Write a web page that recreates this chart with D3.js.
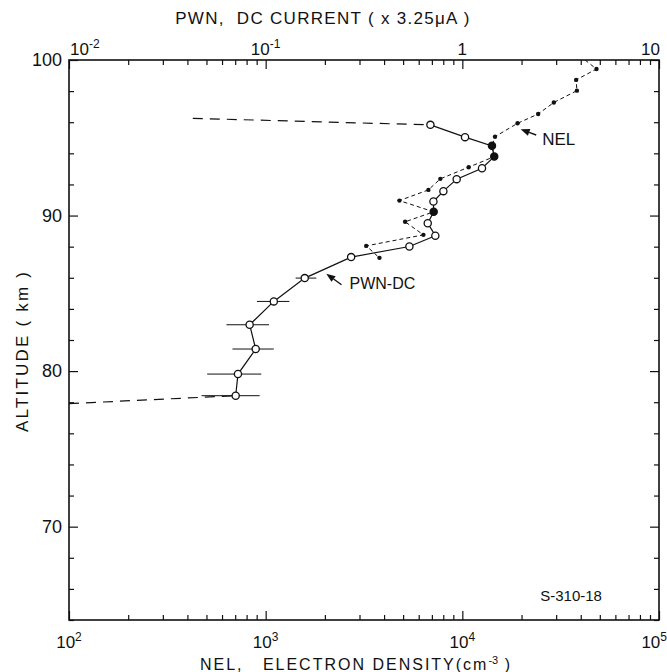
<!DOCTYPE html>
<html>
<head>
<meta charset="utf-8">
<script src="https://cdn.jsdelivr.net/npm/d3@7/dist/d3.min.js"></script>
<style>
  html, body { margin: 0; padding: 0; background: #fff; }
  svg text { font-family: "Liberation Sans", "DejaVu Sans", sans-serif; fill: #111; white-space: pre; }
</style>
</head>
<body>
<svg id="chart" width="667" height="672"></svg>
<script>
// PWN DC current profile (units of 3.25 µA) and altitude (km)
const pwnCurrent = [0.688, 1.032, 1.415, 1.453, 1.259, 0.936, 0.801, 0.713, 0.715, 0.667,
                    0.729, 0.538, 0.272, 0.158, 0.110, 0.0829, 0.0890, 0.0723, 0.0704];
const pwnAltitude = [95.83, 95.04, 94.48, 93.79, 93.04, 92.34, 91.57, 90.90, 90.24, 89.51,
                     88.70, 88.01, 87.33, 85.98, 84.48, 82.98, 81.42, 79.81, 78.42];
// horizontal error bars on the lower PWN points (low / high current)
const errAltitude = [85.98, 84.48, 82.98, 81.42, 79.81, 78.42];
const errLow  = [0.142, 0.0903, 0.0632, 0.0678, 0.0504, 0.0472];
const errHigh = [0.181, 0.132, 0.104, 0.110, 0.095, 0.0932];
// dashed extrapolations of the PWN profile above and below the measured points
const pwnUpperExt = [[0.0426, 96.25], [0.688, 95.83]];
const pwnLowerExt = [[0.0100, 77.91], [0.0704, 78.42]];

// NEL electron density (cm^-3) and altitude (km)
const nelDensity = [42070, 48100, 37900, 38250, 29200, 24300, 19090, 14660, 14150, 14530,
                    10770, 7730, 6720, 4787, 7150, 5118, 6340, 3245, 3790];
const nelAltitude = [100.0, 99.42, 98.72, 98.03, 97.27, 96.53, 95.93, 95.07, 94.48, 93.79,
                     93.11, 92.36, 91.65, 90.96, 90.24, 89.60, 88.76, 88.05, 87.28];
const nelDotFrom = 1; // first entry is only where the trace leaves the frame

const bottomTicks = [1e2, 1e3, 1e4, 1e5];
const bottomExp = ["2", "3", "4", "5"];
const topTicks = [1e-2, 1e-1, 1, 10];
const altTicks = [70, 80, 90, 100];

const svg = d3.select("#chart");
const L = 69, R = 659, T = 60, B = 620;

const x = d3.scaleLog().domain([1e2, 1e5]).range([L, R]);
const xTop = d3.scaleLog().domain([1e-2, 10]).range([L, R]);
const y = d3.scaleLinear().domain([64, 100]).range([B, T]);

// minor tick values for the log axes
function minors(scale) {
  const [a, b] = scale.domain();
  const out = [];
  for (let e = Math.round(Math.log10(a)); e < Math.round(Math.log10(b)); e++) {
    for (let m = 2; m <= 9; m++) out.push(m * Math.pow(10, e));
  }
  return out;
}
const altMinor = d3.range(64, 101, 2).filter(v => v % 10 !== 0);

function tickAxis(axisFn, scale, values, size, transform) {
  const g = svg.append("g").attr("transform", transform)
    .call(axisFn(scale).tickValues(values).tickSizeInner(size).tickSizeOuter(0).tickFormat(""));
  g.select(".domain").remove();
  g.selectAll(".tick line").attr("stroke", "#111").attr("stroke-width", 1.2);
  return g;
}
// inward ticks on all four sides
tickAxis(d3.axisBottom, x, minors(x), -5, `translate(0,${B})`);
tickAxis(d3.axisBottom, x, bottomTicks, -9, `translate(0,${B})`);
tickAxis(d3.axisTop, xTop, minors(xTop), -5, `translate(0,${T})`);
tickAxis(d3.axisTop, xTop, topTicks, -9, `translate(0,${T})`);
tickAxis(d3.axisLeft, y, altMinor, -5, `translate(${L},0)`);
tickAxis(d3.axisLeft, y, altTicks, -9, `translate(${L},0)`);
tickAxis(d3.axisRight, y, altMinor, -5, `translate(${R},0)`);
tickAxis(d3.axisRight, y, altTicks, -9, `translate(${R},0)`);

// frame
svg.append("rect").attr("x", L).attr("y", T).attr("width", R - L).attr("height", B - T)
  .attr("fill", "none").attr("stroke", "#111").attr("stroke-width", 1.6);

// tick labels
bottomTicks.forEach((v, i) => {
  let anchor = "middle", xx = x(v);
  if (i === bottomTicks.length - 1) { anchor = "end"; xx = 667; }
  const t = svg.append("text").attr("x", xx).attr("y", 648)
    .attr("text-anchor", anchor).attr("font-size", 17);
  t.append("tspan").text("10");
  t.append("tspan").attr("dy", -7).attr("font-size", 12).text(bottomExp[i]);
});
const topLabels = [["10", "-2"], ["10", "-1"], ["1", null], ["10", null]];
topTicks.forEach((v, i) => {
  let anchor = "middle", xx = xTop(v);
  if (i === 0) { anchor = "start"; xx += 1; }
  if (i === 3) { anchor = "end"; xx += 1; }
  const t = svg.append("text").attr("x", xx).attr("y", 55)
    .attr("text-anchor", anchor).attr("font-size", 17);
  t.append("tspan").text(topLabels[i][0]);
  if (topLabels[i][1]) t.append("tspan").attr("dy", -7).attr("font-size", 12).text(topLabels[i][1]);
});
altTicks.forEach(v => {
  svg.append("text").attr("x", 62).attr("y", y(v) + 6)
    .attr("text-anchor", "end").attr("font-size", 18).text(v);
});

// axis titles
svg.append("text").attr("x", 323).attr("y", 24).attr("text-anchor", "middle")
  .attr("font-size", 17).attr("letter-spacing", 1.3)
  .text("PWN,  DC CURRENT ( x 3.25μA )");
const botTitle = svg.append("text").attr("x", 356).attr("y", 670).attr("text-anchor", "middle")
  .attr("font-size", 16).attr("letter-spacing", 2);
botTitle.append("tspan").text("NEL,   ELECTRON DENSITY(cm");
botTitle.append("tspan").attr("dy", -6).attr("font-size", 11).attr("letter-spacing", 0).text("-3");
botTitle.append("tspan").attr("dy", 6).text(" )");
svg.append("text").attr("transform", `translate(28,${351}) rotate(-90)`)
  .attr("text-anchor", "middle").attr("font-size", 17).attr("letter-spacing", 2.2)
  .text("ALTITUDE ( km )");

const plot = svg.append("g");
plot.append("clipPath").attr("id", "clip").append("rect")
  .attr("x", L).attr("y", T).attr("width", R - L).attr("height", B - T);
const clipped = plot.append("g").attr("clip-path", "url(#clip)");

const lineTop = d3.line().x(d => xTop(d[0])).y(d => y(d[1]));
const lineNel = d3.line().x(d => x(d[0])).y(d => y(d[1]));

// PWN extrapolations
[pwnUpperExt, pwnLowerExt].forEach(seg => {
  clipped.append("path").attr("d", lineTop(seg)).attr("fill", "none")
    .attr("stroke", "#111").attr("stroke-width", 1.2).attr("stroke-dasharray", "10,7");
});

// NEL trace
const nelPts = nelDensity.map((v, i) => [v, nelAltitude[i]]);
clipped.append("path").attr("d", lineNel(nelPts)).attr("fill", "none")
  .attr("stroke", "#111").attr("stroke-width", 1).attr("stroke-dasharray", "4,3");

// PWN error bars
errAltitude.forEach((a, i) => {
  clipped.append("line").attr("x1", xTop(errLow[i])).attr("x2", xTop(errHigh[i]))
    .attr("y1", y(a)).attr("y2", y(a)).attr("stroke", "#111").attr("stroke-width", 1);
});

// PWN trace; a marker that coincides with an NEL sample is drawn solid
const pwnPts = pwnCurrent.map((v, i) => [v, pwnAltitude[i]]);
const nelXY = nelPts.slice(nelDotFrom).map(d => [x(d[0]), y(d[1])]);
const coincident = d => nelXY.some(p => Math.hypot(p[0] - xTop(d[0]), p[1] - y(d[1])) < 3);
clipped.append("path").attr("d", lineTop(pwnPts)).attr("fill", "none")
  .attr("stroke", "#111").attr("stroke-width", 1.2);
clipped.selectAll("circle.pwn").data(pwnPts).join("circle").attr("class", "pwn")
  .attr("cx", d => xTop(d[0])).attr("cy", d => y(d[1])).attr("r", 3.6)
  .attr("fill", d => coincident(d) ? "#111" : "#fff").attr("stroke", "#111").attr("stroke-width", 1.3);

// NEL points
clipped.selectAll("circle.nel").data(nelPts.slice(nelDotFrom)).join("circle").attr("class", "nel")
  .attr("cx", d => x(d[0])).attr("cy", d => y(d[1])).attr("r", 2.2).attr("fill", "#111");

// annotations with arrows
function arrow(from, to) {
  const x1 = x(from[0]), y1 = y(from[1]), x2 = x(to[0]), y2 = y(to[1]);
  const ang = Math.atan2(y2 - y1, x2 - x1);
  const hl = 9, hw = 3.5;
  const bx = x2 - hl * Math.cos(ang), by = y2 - hl * Math.sin(ang);
  svg.append("line").attr("x1", x1).attr("y1", y1).attr("x2", bx).attr("y2", by)
    .attr("stroke", "#111").attr("stroke-width", 1.4);
  svg.append("path").attr("d",
    `M${x2},${y2}L${bx - hw * Math.sin(ang)},${by + hw * Math.cos(ang)}L${bx + hw * Math.sin(ang)},${by - hw * Math.cos(ang)}Z`)
    .attr("fill", "#111");
}
arrow([23740, 95.18], [19800, 95.55]);
svg.append("text").attr("x", x(25470)).attr("y", y(94.54)).attr("font-size", 17).text("NEL");
arrow([2431, 85.55], [2033, 86.26]);
svg.append("text").attr("x", x(2669)).attr("y", y(85.29)).attr("font-size", 16).text("PWN-DC");
svg.append("text").attr("x", x(24900)).attr("y", y(65.25)).attr("font-size", 15).text("S-310-18");
</script>
</body>
</html>
